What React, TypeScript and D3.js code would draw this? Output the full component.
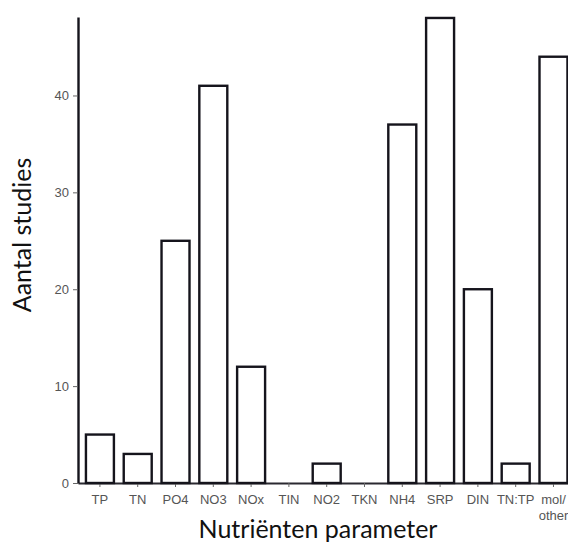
import { useEffect, useRef } from 'react';
import * as d3 from 'd3';

const categories = ['TP', 'TN', 'PO4', 'NO3', 'NOx', 'TIN', 'NO2', 'TKN', 'NH4', 'SRP', 'DIN', 'TN:TP', 'mol/\nother'];
const counts = [5, 3, 25, 41, 12, 0, 2, 0, 37, 48, 20, 2, 44];
const yTicks = [0, 10, 20, 30, 40];

const WIDTH = 568;
const HEIGHT = 546;

const App = () => {
  const svgRef = useRef<SVGSVGElement>(null);

  useEffect(() => {
    if (!svgRef.current) return;
    const svg = d3.select(svgRef.current);
    svg.selectAll('*').remove();

    // chart runs off the right edge, like the cropped original
    const x = d3.scaleBand<string>()
      .domain(categories)
      .range([78, 575.4])
      .paddingInner(0.26)
      .paddingOuter(0.21);

    const y = d3.scaleLinear()
      .domain([0, 48.1])
      .range([483, 17]);

    // x axis line first so bars sit on top of it
    const xAxis = svg.append('g')
      .attr('transform', `translate(0,${y(0)})`)
      .call(d3.axisBottom(x).tickSize(4).tickSizeOuter(0).tickFormat(() => ''));
    xAxis.select('.domain').attr('stroke', '#2a2930').attr('stroke-width', 2);
    xAxis.selectAll('.tick line').attr('stroke', '#666').attr('stroke-width', 1);

    xAxis.selectAll('.tick')
      .append('text')
      .attr('fill', '#555')
      .attr('text-anchor', 'middle')
      .style('font-family', '"Liberation Sans", Arial, sans-serif')
      .style('font-size', '13px')
      .selectAll('tspan')
      .data(d => String(d).split('\n'))
      .enter()
      .append('tspan')
      .attr('x', 0)
      .attr('y', (d, i) => 21 + i * 16)
      .text(d => d);

    // bars
    svg.append('g')
      .selectAll('rect')
      .data(categories)
      .enter()
      .append('rect')
      .attr('x', d => x(d) as number)
      .attr('y', (d, i) => y(counts[i]))
      .attr('width', x.bandwidth())
      .attr('height', (d, i) => y(0) - y(counts[i]))
      .attr('fill', (d, i) => (counts[i] === 0 ? 'none' : '#fff'))
      .attr('stroke', (d, i) => (counts[i] === 0 ? '#b8b8bc' : '#15141c'))
      .attr('stroke-width', 2.4);

    // y axis
    const yAxis = svg.append('g')
      .attr('transform', 'translate(78,0)')
      .call(d3.axisLeft(y).tickValues(yTicks).tickSize(5).tickSizeOuter(0));
    yAxis.select('.domain').attr('stroke', '#15141c').attr('stroke-width', 2.4);
    yAxis.selectAll('.tick line').attr('stroke', '#666');
    yAxis.selectAll('.tick text')
      .attr('fill', '#555')
      .attr('x', -9)
      .style('font-family', '"Liberation Sans", Arial, sans-serif')
      .style('font-size', '13px');

    // axis titles
    svg.append('text')
      .attr('transform', 'translate(31,235) rotate(-90)')
      .attr('text-anchor', 'middle')
      .attr('fill', '#111')
      .style('font-family', 'Lato, "Open Sans", sans-serif')
      .style('font-size', '25px')
      .text('Aantal studies');

    svg.append('text')
      .attr('x', 318)
      .attr('y', 538)
      .attr('text-anchor', 'middle')
      .attr('fill', '#111')
      .style('font-family', 'Lato, "Open Sans", sans-serif')
      .style('font-size', '25px')
      .text('Nutriënten parameter');
  }, []);

  return (
    <svg
      ref={svgRef}
      width={WIDTH}
      height={HEIGHT}
      style={{ position: 'absolute', left: 0, top: 0, background: '#fff' }}
    />
  );
};

export default App;
